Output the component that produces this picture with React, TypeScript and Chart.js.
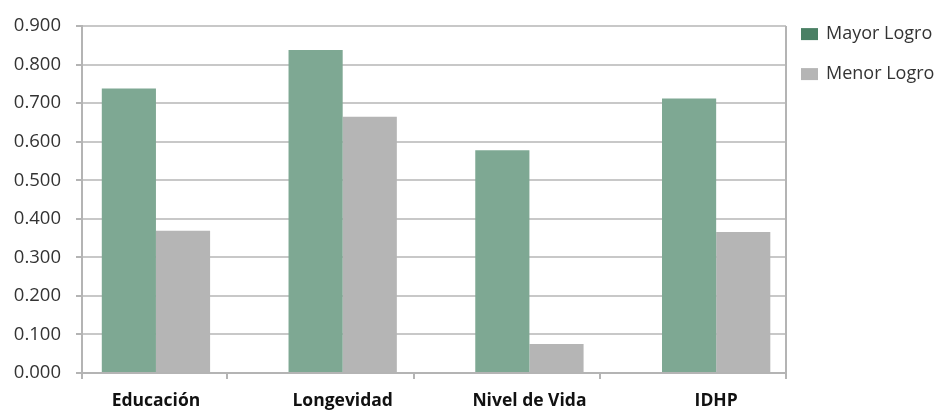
import React, { useEffect, useRef } from "react";
import { Chart, registerables } from "chart.js";

Chart.register(...registerables);

const categories = ["Educación", "Longevidad", "Nivel de Vida", "IDHP"];
const seriesNames = ["Mayor Logro", "Menor Logro"];
const mayorLogro = [0.738, 0.838, 0.578, 0.712];
const menorLogro = [0.369, 0.665, 0.075, 0.366];
const yTicks = [0, 0.1, 0.2, 0.3, 0.4, 0.5, 0.6, 0.7, 0.8, 0.9];

const GREEN = "#7ea893";
const GREEN_LEGEND = "#4a8064";
const GRAY = "#b5b5b5";
const GRID = "#c8c8c8";
const AXIS = "#b4b4b4";
const FONT = "'Open Sans', 'DejaVu Sans', sans-serif";

const frame = {
  id: "frame",
  afterDraw(chart: any) {
    const { ctx, chartArea, scales } = chart;
    const xs = scales.x;
    ctx.save();
    ctx.strokeStyle = AXIS;
    ctx.lineWidth = 2;
    // right border
    ctx.beginPath();
    ctx.moveTo(chartArea.right, chartArea.top);
    ctx.lineTo(chartArea.right, chartArea.bottom + 6);
    ctx.stroke();
    // tick marks on category axis
    const marks = [xs.min, ...categories.slice(0, -1).map((_, i) => i + 0.38), xs.max];
    marks.forEach((v: number) => {
      const px = Math.round(xs.getPixelForValue(v));
      ctx.beginPath();
      ctx.moveTo(px, chartArea.bottom);
      ctx.lineTo(px, chartArea.bottom + 6);
      ctx.stroke();
    });
    // legend
    const colors = [GREEN_LEGEND, GRAY];
    ctx.font = `18px ${FONT}`;
    ctx.textBaseline = "middle";
    ctx.textAlign = "left";
    seriesNames.forEach((name, i) => {
      const cy = chartArea.top + 8 + i * 40;
      ctx.fillStyle = colors[i];
      ctx.fillRect(chartArea.right + 15, cy - 6, 17, 12);
      ctx.fillStyle = "#333";
      ctx.fillText(name, chartArea.right + 40, cy);
    });
    ctx.restore();
  },
};

export default function App() {
  const ref = useRef<HTMLCanvasElement>(null);
  useEffect(() => {
    document.body.style.margin = "0";
    const chart = new Chart(ref.current!, {
      type: "bar",
      data: {
        datasets: [
          {
            label: seriesNames[0],
            data: mayorLogro.map((y, i) => ({ x: i, y })),
            backgroundColor: GREEN,
          },
          {
            label: seriesNames[1],
            data: menorLogro.map((y, i) => ({ x: i, y })),
            backgroundColor: GRAY,
          },
        ],
      },
      options: {
        animation: false,
        responsive: false,
        maintainAspectRatio: false,
        layout: { padding: { top: 24, left: 0, right: 151, bottom: 0 } },
        datasets: { bar: { categoryPercentage: 0.58, barPercentage: 1 } },
        scales: {
          x: {
            type: "linear",
            min: -0.396,
            max: 3.374,
            offset: false,
            afterBuildTicks: (axis: any) => {
              axis.ticks = categories.map((_, i) => ({ value: i }));
            },
            afterFit: (axis: any) => {
              axis.height = 39;
            },
            grid: { display: true, drawOnChartArea: false, drawTicks: true, tickLength: 6, color: "transparent" },
            border: { display: true, color: AXIS, width: 2 },
            ticks: {
              autoSkip: false,
              maxRotation: 0,
              padding: 12,
              color: "#111",
              font: { family: FONT, size: 17.5, weight: "bold" },
              callback: (v: any) => categories[Math.round(Number(v))] ?? "",
            },
          },
          y: {
            min: 0,
            max: 0.9,
            afterBuildTicks: (axis: any) => {
              axis.ticks = yTicks.map((v) => ({ value: v }));
            },
            afterFit: (axis: any) => {
              axis.width = 82;
            },
            grid: { color: GRID, lineWidth: 2, tickLength: 6, tickColor: AXIS },
            border: { display: true, color: AXIS, width: 2 },
            ticks: {
              padding: 15,
              color: "#333",
              font: { family: FONT, size: 18.5 },
              callback: (v: any) => Number(v).toFixed(3),
            },
          },
        },
        plugins: {
          legend: { display: false },
          tooltip: { enabled: false },
        },
      },
      plugins: [frame],
    } as any);
    return () => chart.destroy();
  }, []);
  return <canvas ref={ref} width={937} height={412} style={{ display: "block" }} />;
}
